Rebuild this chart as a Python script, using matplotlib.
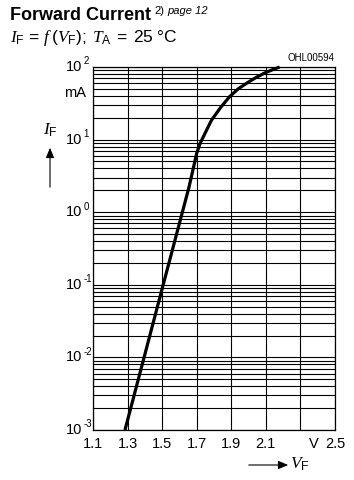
import matplotlib
matplotlib.use("Agg")
import matplotlib.pyplot as plt
from matplotlib.ticker import FixedLocator, FixedFormatter, NullFormatter
from matplotlib.patches import FancyArrowPatch
from matplotlib.transforms import offset_copy

plt.rcParams['font.family'] = ['Liberation Sans', 'DejaVu Sans']
plt.rcParams['mathtext.fontset'] = 'custom'
plt.rcParams['mathtext.rm'] = 'Liberation Sans'
plt.rcParams['mathtext.it'] = 'Liberation Serif:italic'
plt.rcParams['mathtext.bf'] = 'Liberation Sans:bold'

# Data
vf = [1.285, 1.506, 1.655, 1.680, 1.700, 1.720, 1.748, 1.786, 1.840, 1.890,
      1.940, 1.990, 2.040, 2.090, 2.140, 2.180]
i_f = [0.001, 0.1, 2.2, 4.0, 6.5, 8.9, 12.2, 18.6, 28, 39,
       50, 60, 71, 82, 92, 100]

x_ticks = [1.1, 1.3, 1.5, 1.7, 1.9, 2.1, 2.3, 2.5]
x_labels = ["1.1", "1.3", "1.5", "1.7", "1.9", "2.1", "", "2.5"]
y_ticks = [1e-3, 1e-2, 1e-1, 1e0, 1e1, 1e2]
y_exponents = ["-3", "-2", "-1", "0", "1", "2"]

fig = plt.figure(figsize=(3.54, 4.8), dpi=100)
ax = fig.add_axes([93/354, 1-430/480, (335-93)/354, (430-67)/480])

ax.set_yscale('log')
ax.set_xlim(1.1, 2.5)
ax.set_ylim(1e-3, 1e2)

minor = [m * 10.0**e for e in range(-3, 2) for m in range(2, 10)]
ax.yaxis.set_major_locator(FixedLocator(y_ticks))
ax.yaxis.set_minor_locator(FixedLocator(minor))
ax.yaxis.set_minor_formatter(NullFormatter())
ax.yaxis.set_major_formatter(NullFormatter())
ax.set_xticks(x_ticks)
ax.set_xticklabels(x_labels)
ax.xaxis.set_minor_locator(FixedLocator([2.38]))
ax.xaxis.set_minor_formatter(FixedFormatter(["V"]))

ax.grid(True, which='major', axis='both', color='black', linewidth=0.8)
ax.grid(True, which='minor', axis='y', color='black', linewidth=0.8)
ax.grid(False, which='minor', axis='x')
ax.tick_params(which='both', length=0, labelsize=10.5, pad=5, colors='black')
for s in ax.spines.values():
    s.set_linewidth(0.9)
    s.set_color('black')

ax.plot(vf, i_f, color='black', linewidth=2.3, solid_capstyle='butt', zorder=5, clip_on=False)

# Y tick labels: "10" with raised exponent
ytr = ax.get_yaxis_transform()
for yv, ex in zip(y_ticks, y_exponents):
    ax.text(-0.045, yv, "10", transform=ytr, ha='right', va='center', fontsize=10.5)
    ax.text(-0.038, yv, ex, transform=offset_copy(ytr, fig=fig, x=0, y=0.5, units='points'),
            ha='left', va='bottom', fontsize=7)

ax.text(-0.03, 44, "mA", transform=ytr, ha='right', va='center', fontsize=10.5)
fig.text(335/354, 1-58/480, "OHL00594", ha='right', va='center', fontsize=7)

# Y axis label with arrow
fig.text(50/354, 1-130/480, r"$\mathit{I}_{\mathrm{F}}$", ha='center', va='center', fontsize=12.5)
fig.add_artist(FancyArrowPatch((50/354, 1-190/480), (50/354, 1-145/480),
               transform=fig.transFigure, arrowstyle='-|>,head_length=6,head_width=2.5',
               color='black', linewidth=0.8, mutation_scale=1))
# X axis label with arrow
fig.text(300/354, 1-464/480, r"$\mathit{V}_{\mathrm{F}}$", ha='center', va='center', fontsize=12.5)
fig.add_artist(FancyArrowPatch((246/354, 1-465/480), (291/354, 1-465/480),
               transform=fig.transFigure, arrowstyle='-|>,head_length=6,head_width=2.5',
               color='black', linewidth=0.8, mutation_scale=1))

# Titles
t1 = fig.text(10/354, 1-15/480, "Forward Current", ha='left', va='center',
              fontsize=13, fontweight='bold')
fig.canvas.draw()
bb = t1.get_window_extent(renderer=fig.canvas.get_renderer())
x0 = bb.x1 / fig.bbox.width + 3/354
s1 = fig.text(x0, 1-11/480, "2)", ha='left', va='center', fontsize=8)
fig.canvas.draw()
bb2 = s1.get_window_extent(renderer=fig.canvas.get_renderer())
fig.text(bb2.x1 / fig.bbox.width + 3/354, 1-11/480, "page 12", ha='left', va='center',
         fontsize=8, fontstyle='italic')

fig.text(10/354, 1-38/480,
         r"$\mathit{I}_{\mathrm{F}}\,\mathrm{=}\,\mathit{f}\;\mathrm{(}\mathit{V}_{\mathrm{F}}\mathrm{);}\;\mathit{T}_{\mathrm{A}}\;\mathrm{=\ 25\ °C}$",
         ha='left', va='center', fontsize=12.5)

fig.savefig("out.png", dpi=100)
